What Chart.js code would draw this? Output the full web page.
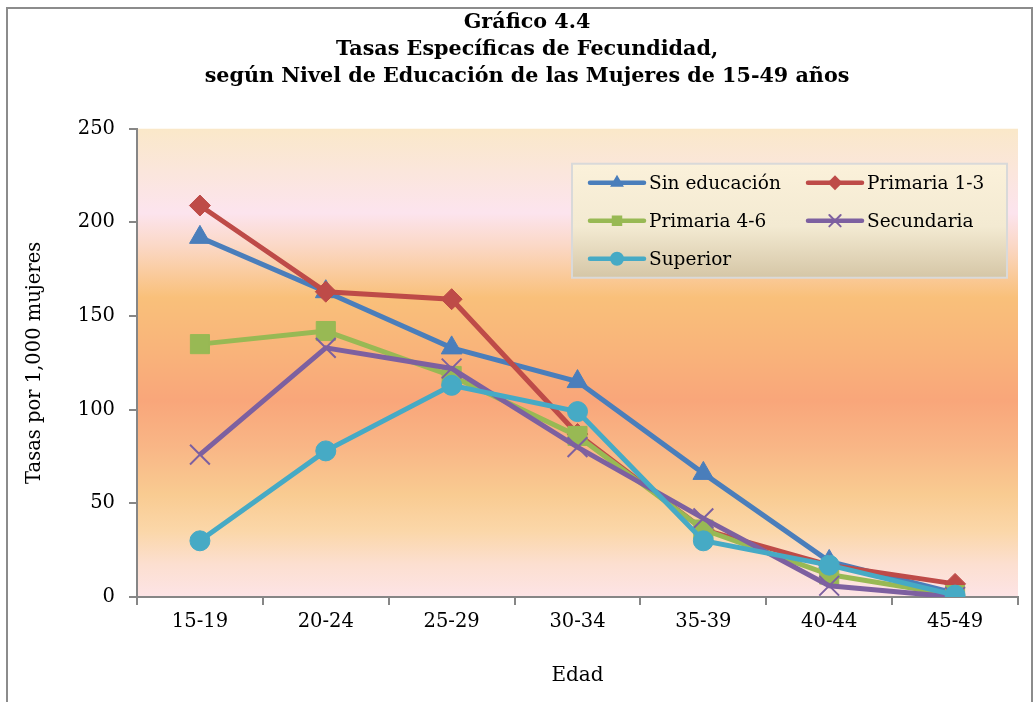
<!DOCTYPE html>
<html>
<head>
<meta charset="utf-8">
<script src="https://cdn.jsdelivr.net/npm/chart.js@4"></script>
<style>
  html, body { margin: 0; padding: 0; background: #fff; }
  #wrap { width: 1036px; height: 702px; }
</style>
</head>
<body>
<div id="wrap"><canvas id="grafico" width="1036" height="702"></canvas></div>
<script>
// Datos del gráfico 4.4
const edades = ["15-19", "20-24", "25-29", "30-34", "35-39", "40-44", "45-49"];
const sinEducacion = [192, 163, 133, 115, 66, 19, 2];
const primaria13 = [209, 163, 159, 87, 36, 17, 7];
const primaria46 = [135, 142, 118, 86, 36, 12, 1];
const secundaria = [76, 133, 122, 80, 42, 6, 0];
const superior = [30, 78, 113, 99, 30, 17, 1];

const fuente = "'DejaVu Serif', 'Liberation Serif', serif";

// fondo degradado del área de trazado y marco exterior
const fondo = {
  id: "fondo",
  beforeDraw(chart) {
    const { ctx, chartArea: a } = chart;
    ctx.save();
    ctx.fillStyle = "#fff";
    ctx.fillRect(0, 0, chart.width, chart.height);
    ctx.strokeStyle = "#8c8c8c";
    ctx.lineWidth = 2;
    ctx.strokeRect(7, 8, 1025, 720);
    const g = ctx.createLinearGradient(0, a.top, 0, a.bottom);
    g.addColorStop(0, "#FAE8C9");
    g.addColorStop(0.18, "#FCE4EE");
    g.addColorStop(0.25, "#FBD8C6");
    g.addColorStop(0.36, "#F9C07A");
    g.addColorStop(0.47, "#F9B47A");
    g.addColorStop(0.58, "#F9A67A");
    g.addColorStop(0.68, "#F9B686");
    g.addColorStop(0.78, "#F9CB91");
    g.addColorStop(0.86, "#FBD7A9");
    g.addColorStop(0.93, "#FCDFD0");
    g.addColorStop(1, "#FDE4E6");
    ctx.fillStyle = g;
    ctx.fillRect(a.left, a.top, a.right - a.left, a.bottom - a.top);
    ctx.restore();
  },
};

// leyenda dentro del área de trazado
const leyenda = {
  id: "leyenda",
  afterDatasetsDraw(chart) {
    const { ctx, chartArea: a } = chart;
    const x0 = a.right - 446, y0 = a.top + 35, w = 435, h = 114;
    ctx.save();
    const g = ctx.createLinearGradient(0, y0, 0, y0 + h);
    g.addColorStop(0, "#FBF1DA");
    g.addColorStop(0.55, "#F3EAD2");
    g.addColorStop(1, "#D5C6A6");
    ctx.fillStyle = g;
    ctx.fillRect(x0, y0, w, h);
    ctx.strokeStyle = "#D9D9D9";
    ctx.lineWidth = 2;
    ctx.strokeRect(x0, y0, w, h);
    ctx.font = "18.5px " + fuente;
    ctx.textBaseline = "middle";
    chart.data.datasets.forEach((ds, i) => {
      const col = i % 2, fila = Math.floor(i / 2);
      const lx = x0 + 18 + col * 218, ly = y0 + 19 + fila * 38;
      ctx.strokeStyle = ds.borderColor;
      ctx.fillStyle = ds.borderColor;
      ctx.lineWidth = 4.5;
      ctx.lineCap = "round";
      ctx.beginPath();
      ctx.moveTo(lx, ly);
      ctx.lineTo(lx + 54, ly);
      ctx.stroke();
      ctx.lineWidth = 2;
      Chart.helpers.drawPoint(ctx, {
        pointStyle: ds.pointStyle,
        radius: ds.pointStyle === "crossRot" ? 8 : 6,
        borderWidth: 2,
        rotation: 0,
      }, lx + 27, ly);
      ctx.fillStyle = "#000";
      ctx.fillText(ds.label, lx + 59, ly + 1);
    });
    ctx.restore();
  },
};

function serie(label, data, color, estilo, radio, bw) {
  return {
    label: label,
    data: data,
    borderColor: color,
    backgroundColor: color,
    pointBackgroundColor: color,
    pointBorderColor: color,
    borderWidth: 5,
    pointStyle: estilo,
    pointRadius: radio,
    pointHoverRadius: radio,
    pointBorderWidth: bw,
    tension: 0,
  };
}

const datasets = [
  serie("Sin educación", sinEducacion, "#4A7EBB", "triangle", 12, 1),
  serie("Primaria 1-3", primaria13, "#BE4B48", "rectRot", 10.5, 1),
  serie("Primaria 4-6", primaria46, "#98B954", "rect", 13.5, 1),
  serie("Secundaria", secundaria, "#7D60A0", "crossRot", 14, 2),
  serie("Superior", superior, "#46AAC5", "circle", 10, 1),
];
// el último se dibuja encima
datasets.forEach((d, i) => { d.order = datasets.length - i; });

new Chart(document.getElementById("grafico"), {
  type: "line",
  data: { labels: edades, datasets: datasets },
  plugins: [fondo, leyenda],
  options: {
    responsive: false,
    animation: false,
    // padding izquierdo para centrar el título como en el original
    layout: { padding: { left: 36, right: 18, top: 0, bottom: 0 } },
    plugins: {
      legend: { display: false },
      tooltip: { enabled: false },
      title: {
        display: true,
        text: [
          "Gráfico 4.4",
          "Tasas Específicas de Fecundidad,",
          "según Nivel de Educación de las Mujeres de 15-49 años",
        ],
        color: "#000",
        font: { family: fuente, size: 20.7, weight: "bold", lineHeight: 1.3 },
        padding: { top: 9, bottom: 39 },
      },
    },
    scales: {
      x: {
        offset: true,
        afterFit(s) { s.height = 105; },
        grid: {
          offset: true,
          drawOnChartArea: false,
          drawTicks: true,
          tickLength: 8,
          color: "#868686",
          lineWidth: 2,
        },
        border: { display: true, color: "#868686", width: 2 },
        ticks: { color: "#000", padding: 5, font: { family: fuente, size: 19.5 } },
        title: {
          display: true,
          text: "Edad",
          color: "#000",
          font: { family: fuente, size: 20 },
          padding: { top: 0, bottom: 14 },
        },
      },
      y: {
        min: 0,
        max: 250,
        afterFit(s) { s.width = 101; },
        ticks: { stepSize: 50, color: "#000", padding: 14, font: { family: fuente, size: 19.5 } },
        grid: {
          drawOnChartArea: false,
          drawTicks: true,
          tickLength: 8,
          color: "#868686",
          lineWidth: 2,
        },
        border: { display: true, color: "#868686", width: 2 },
        title: {
          display: true,
          text: "Tasas por 1,000 mujeres",
          color: "#000",
          font: { family: fuente, size: 19.5 },
          padding: { top: -13, bottom: 0 },
        },
      },
    },
  },
});
</script>
</body>
</html>
